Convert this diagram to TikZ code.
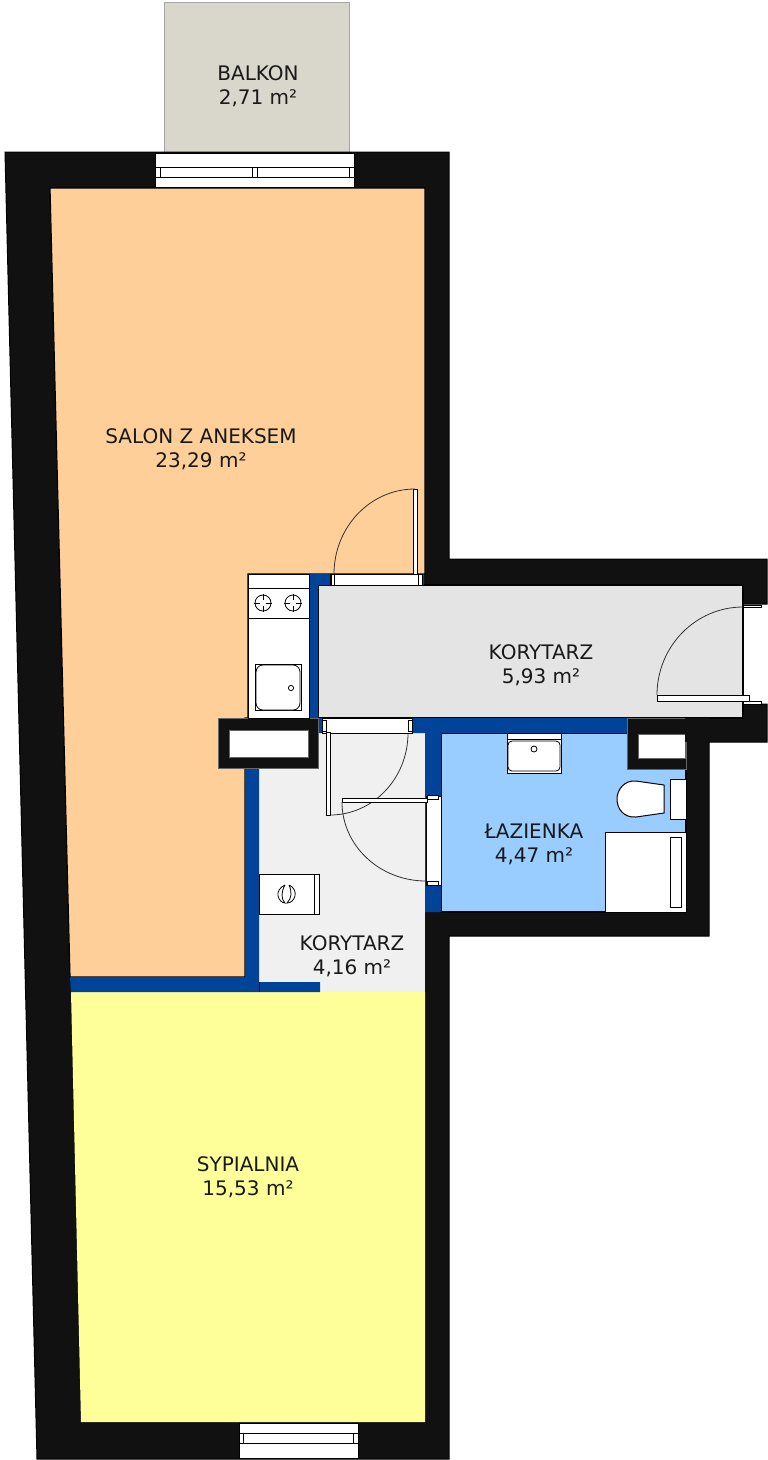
\documentclass[tikz,border=0pt]{standalone}
\usepackage{xcolor}
\usepackage{fontspec}
\setmainfont{DejaVu Sans}
\definecolor{wallblack}{HTML}{111111}
\definecolor{wallblue}{HTML}{00449A}
\definecolor{salon}{HTML}{FFCF99}
\definecolor{bedroom}{HTML}{FFFF99}
\definecolor{hallone}{HTML}{E4E4E4}
\definecolor{halltwo}{HTML}{F0F0F0}
\definecolor{bath}{HTML}{99CCFF}
\definecolor{balcony}{HTML}{D9D6CC}
\tikzset{
	room/.style={draw=black,line width=1.2pt},
	fitting/.style={draw=black,fill=white,line width=1pt},
	thinline/.style={draw=black,line width=0.8pt},
	swing/.style={draw=black!80,line width=0.8pt},
	lab/.style={align=center,text=black!90,font=\fontsize{20}{24}\selectfont},
}
\begin{document}
\begin{tikzpicture}[x=1pt,y=-1pt]
	\useasboundingbox (0,0) rectangle (768,1460);
	\fill[balcony,draw=black!35,line width=0.8pt](164,2) rectangle (349,152);
	\fill[wallblack,draw=black,line width=1pt](5,152)--(449,152)--(449,559)--(767,559)--(767,604)--(743,604)--(743,704)--(767,704)--(767,742)--(709,742)--(709,936)--(449,936)--(449,1459)--(37,1459)--cycle;
	\fill[salon,room](50,188)--(425,188)--(425,574)--(248,574)--(248,718)--(245,718)--(245,977)--(70,977)--cycle;
	\fill[bedroom](71,992)--(425,992)--(425,1422)--(81,1422)--cycle;
	\fill[hallone,room](318,585)--(743,585)--(743,718)--(318,718)--cycle;
	\fill[halltwo](259,733) rectangle (425,992);
	\fill[bath,room](441,733) rectangle (686,912);
	\fill[wallblue](70,977)--(245,977)--(245,768)--(259,768)--(259,982)--(320,982)--(320,992)--(71,992)--cycle;
	\fill[wallblue](309,574)--(424,574)--(424,585)--(318,585)--(318,733)--(309,733)--cycle;
	\fill[wallblue](318,718)--(627,718)--(627,733)--(441,733)--(441,912)--(425,912)--(425,733)--(318,733)--cycle;
	\draw[black,line width=0.8pt](259,982)--(259,992);
	\fill[wallblack,draw=black!60,line width=0.6pt](218,718) rectangle (318,768);
	\fill[white,draw=black!60,line width=0.6pt](229,730) rectangle (308,757);
	\fill[wallblack,draw=black!60,line width=0.6pt](627,718) rectangle (686,769);
	\fill[white,draw=black!60,line width=0.6pt](638,734) rectangle (685,758);
	\fill[wallblack](685,718) rectangle (709,742);
	% windows
	\draw[fitting](155,153) rectangle (354,187);
	\draw[thinline](155,167)--(354,167) (155,177)--(354,177);
	\foreach \xpos in {160,252,257,349}
		\draw[thinline](\xpos,167)--(\xpos,177);
	\draw[fitting](239,1423) rectangle (358,1458);
	\draw[thinline](239,1433)--(358,1433) (239,1443)--(358,1443);
	\foreach \xpos in {243,353}
		\draw[thinline](\xpos,1433)--(\xpos,1443);
	% kitchen
	\draw[fitting](248,574) rectangle (309,718);
	\draw[thinline](248,588)--(309,588) (248,618)--(309,618);
	\foreach \xpos in {263,293}{
		\draw[thinline](\xpos,603) circle (8);
		\draw[thinline](\xpos-3,603)--(\xpos-9,603) (\xpos+3,603)--(\xpos+9,603) (\xpos,600)--(\xpos,594) (\xpos,606)--(\xpos,612);
	}
	\draw[thinline](255,664) rectangle (301,710);
	\draw[thinline,fill=white,rounded corners=7pt](256,665) rectangle (300,710);
	\draw[thinline](291,688) circle (2.6);
	% hall door to salon
	\draw[fitting](330,574) rectangle (422,585);
	\draw[fitting](331,574) rectangle (334,585);
	\draw[fitting](418,574) rectangle (422,585);
	\draw[fitting](413,489) rectangle (417,574);
	\draw[swing](334,574) arc[start angle=180,end angle=270,x radius=81,y radius=85];
	% hall door
	\draw[fitting](322,718) rectangle (412,733);
	\draw[fitting](322,720) rectangle (326,731);
	\draw[fitting](408,720) rectangle (412,731);
	\draw[fitting](326,732) rectangle (330,815);
	\draw[swing](330,815) arc[start angle=90,end angle=0,x radius=78,y radius=82];
	% bath door
	\draw[fitting](426,796) rectangle (441,885);
	\draw[fitting](427,795) rectangle (438,799);
	\draw[fitting](427,881) rectangle (438,885);
	\draw[fitting](342,798) rectangle (427,802);
	\draw[swing](342,802) arc[start angle=180,end angle=90,x radius=84,y radius=79];
	% entry door
	\draw[fitting](743,605) rectangle (761,607);
	\draw[fitting](743,701) rectangle (761,704);
	\draw[fitting](657,695) rectangle (749,701);
	\draw[swing](657,695) arc[start angle=180,end angle=270,x radius=86,y radius=88];
	% washer
	\draw[fitting](259,874) rectangle (319,914);
	\draw[thinline](314,874)--(314,914);
	\draw[thinline](285,885)..controls(280,887) and (277,892)..(278,896)..controls(279,900) and (282,903)..(285,903)..controls(281,899) and (281,892)..(285,885);
	\draw[thinline](289,885)..controls(294,887) and (296,892)..(295,896)..controls(294,900) and (291,903)..(287,903)..controls(292,898) and (292,892)..(289,885);
	% bath fittings
	\draw[fitting](507,733) rectangle (561,773);
	\draw[thinline](507,739)--(561,739);
	\draw[thinline,rounded corners=4pt](508,741) rectangle (560,771);
	\draw[thinline](534,749) circle (3);
	\draw[fitting](670,779) rectangle (686,819);
	\draw[fitting](664,785)--(636,781)..controls(624,780) and (617,790)..(617,799)..controls(617,809) and (624,818)..(636,817)--(664,813)--cycle;
	\draw[fitting](605,832) rectangle (686,912);
	\draw[thinline](670,837) rectangle (681,907);
	% labels
	\node[lab](balkon) at(258,86){BALKON\\2,71 m²};
	\node[lab](salonlab) at(201,449){SALON Z ANEKSEM\\23,29 m²};
	\node[lab](hallonelab) at(541,665){KORYTARZ\\5,93 m²};
	\node[lab](bathlab) at(534,844){ŁAZIENKA\\4,47 m²};
	\node[lab](halltwolab) at(352,956){KORYTARZ\\4,16 m²};
	\node[lab](bedlab) at(248,1177){SYPIALNIA\\15,53 m²};
\end{tikzpicture}
\end{document}
